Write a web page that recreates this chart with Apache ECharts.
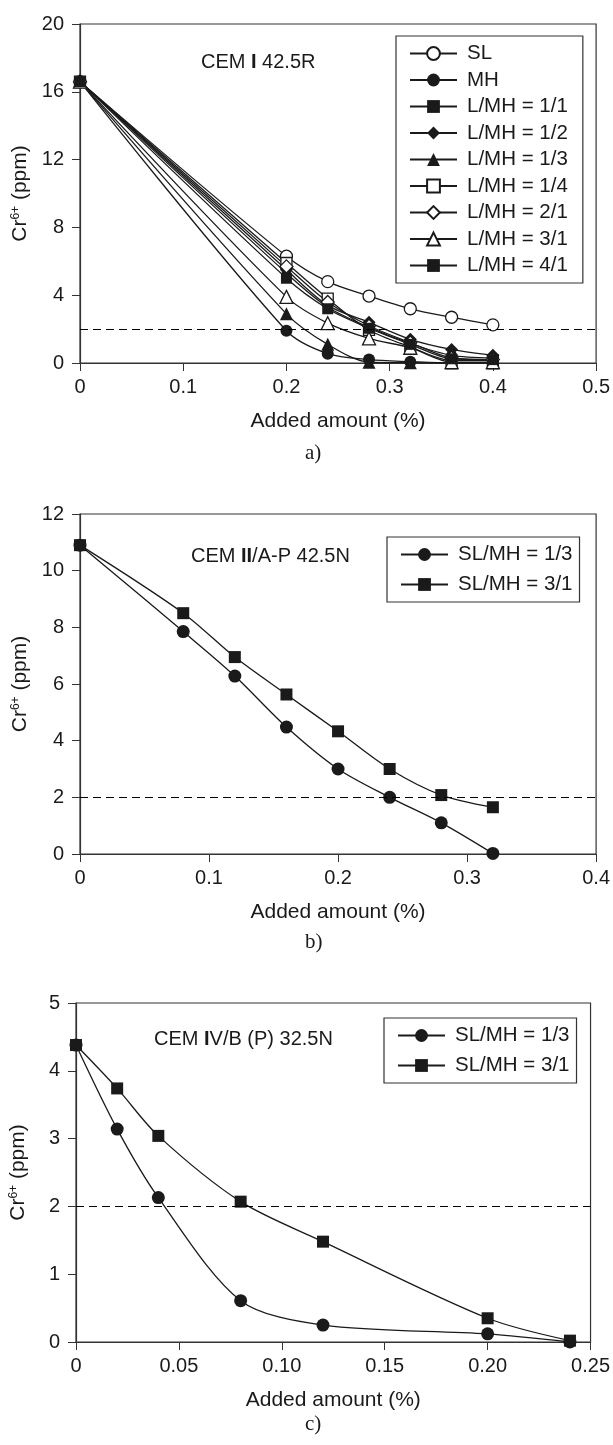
<!DOCTYPE html>
<html>
<head>
<meta charset="utf-8">
<script src="https://cdn.jsdelivr.net/npm/echarts@6/dist/echarts.min.js"></script>
<style>
  html, body { margin: 0; padding: 0; background: #fff; }
  #main { width: 613px; height: 1445px; }
</style>
</head>
<body>
<div id="main"></div>
<script>
// --- data ---
var xA = [0, 0.2, 0.24, 0.28, 0.32, 0.36, 0.4];
var aSL   = [16.6, 6.3, 4.8, 3.95, 3.2, 2.7, 2.25];
var aMH   = [16.6, 1.9, 0.55, 0.2, 0.08, 0, 0];
var aL11  = [16.6, 5.3, 3.3, 2.1, 1.15, 0.45, 0.3];
var aL12  = [16.6, 5.5, 3.4, 2.4, 1.4, 0.8, 0.45];
var aL13  = [16.6, 2.9, 1.1, 0.05, 0.02, 0, 0];
var aL14  = [16.6, 5.9, 3.8, 1.95, 0.95, 0.15, 0.15];
var aL21  = [16.6, 5.7, 3.6, 2.2, 1.2, 0.3, 0.2];
var aL31  = [16.6, 3.9, 2.35, 1.45, 0.9, 0.05, 0.05];
var aL41  = [16.6, 5.0, 3.2, 2.05, 1.1, 0.25, 0.2];

var xB = [0, 0.08, 0.12, 0.16, 0.2, 0.24, 0.28, 0.32];
var b13 = [10.9, 7.85, 6.28, 4.48, 3.0, 2.0, 1.1, 0.02];
var b31 = [10.9, 8.5, 6.95, 5.63, 4.33, 3.0, 2.08, 1.65];

var xC = [0, 0.02, 0.04, 0.08, 0.12, 0.2, 0.24];
var c13 = [4.38, 3.14, 2.13, 0.61, 0.25, 0.12, 0.0];
var c31 = [4.38, 3.74, 3.04, 2.07, 1.48, 0.35, 0.02];

var limit = 2;

var FONT = '"Liberation Sans", Arial, sans-serif';
var SERIF = '"Liberation Serif", "Times New Roman", serif';
var INK = '#1a1a1a';

function pairs(xs, ys) {
    var out = [];
    for (var i = 0; i < xs.length; i++) out.push([xs[i], ys[i]]);
    return out;
}

function mkSeries(name, idx, xs, ys, symbol, open, size) {
    return {
        name: name,
        type: 'line',
        xAxisIndex: idx,
        yAxisIndex: idx,
        data: pairs(xs, ys),
        smooth: 0.3,
        symbol: symbol,
        symbolSize: size,
        showSymbol: true,
        lineStyle: { color: INK, width: 1.3 },
        itemStyle: {
            color: open ? '#fff' : INK,
            borderColor: INK,
            borderWidth: open ? 1.3 : 0
        },
        emphasis: { disabled: true }
    };
}

function limitLine() {
    return {
        silent: true,
        symbol: ['none', 'none'],
        label: { show: false },
        lineStyle: { color: '#000', type: [8, 5], width: 1 },
        data: [{ yAxis: limit }]
    };
}

function xAxisCfg(idx, max, interval, fmt) {
    return {
        type: 'value',
        gridIndex: idx,
        min: 0, max: max, interval: interval,
        name: 'Added amount (%)',
        nameLocation: 'middle',
        nameGap: 48,
        nameTextStyle: { fontFamily: FONT, fontSize: 21, color: INK },
        axisLine: { show: true, onZero: false, lineStyle: { color: '#333', width: 1.2 } },
        axisTick: { show: true, inside: false, length: 8, lineStyle: { color: '#333' } },
        axisLabel: { fontFamily: FONT, fontSize: 20, color: INK, margin: 14, formatter: fmt },
        splitLine: { show: false }
    };
}

var yName = '{n|Cr}{s|6+}{n| (ppm)}';
function yAxisCfg(idx, max, interval) {
    return {
        type: 'value',
        gridIndex: idx,
        min: 0, max: max, interval: interval,
        name: yName,
        nameLocation: 'middle',
        nameGap: 47,
        nameRotate: 90,
        nameTextStyle: {
            rich: {
                n: { fontFamily: FONT, fontSize: 21, color: INK },
                s: { fontFamily: FONT, fontSize: 12, color: INK, verticalAlign: 'top', padding: [0, 0, 8, 0] }
            }
        },
        axisLine: { show: true, lineStyle: { color: '#333', width: 1.2 } },
        axisTick: { show: true, inside: false, length: 8, lineStyle: { color: '#333' } },
        axisLabel: { fontFamily: FONT, fontSize: 20, color: INK, margin: 16 },
        splitLine: { show: false }
    };
}

function legendCfg(left, top, names, gap, pad) {
    return {
        orient: 'vertical',
        left: left, top: top,
        data: names,
        itemWidth: 47,
        itemHeight: 16,
        itemGap: gap,
        padding: pad,
        borderColor: '#333',
        borderWidth: 1.2,
        backgroundColor: '#fff',
        selectedMode: false,
        textStyle: { fontFamily: FONT, fontSize: 20.5, color: INK, padding: [0, 0, 0, 5] }
    };
}

var titleStyle = {
    fontFamily: FONT, fontSize: 20, fontWeight: 'normal', color: INK,
    rich: {
        t: { fontFamily: FONT, fontSize: 20, fontWeight: 'normal', color: INK },
        b: { fontFamily: FONT, fontSize: 20, fontWeight: 'bold', color: INK }
    }
};
var capStyle = { fontFamily: SERIF, fontSize: 21, fontWeight: 'normal', color: INK };

function fmtC(v) { return v === 0 ? '0' : v.toFixed(2); }

var myChart = echarts.init(document.getElementById('main'), null, { renderer: 'canvas' });

var series = [
    mkSeries('SL', 0, xA, aSL, 'circle', true, 12),
    mkSeries('MH', 0, xA, aMH, 'circle', false, 12),
    mkSeries('L/MH = 1/1', 0, xA, aL11, 'rect', false, [9, 7]),
    mkSeries('L/MH = 1/2', 0, xA, aL12, 'diamond', false, 13),
    mkSeries('L/MH = 1/3', 0, xA, aL13, 'triangle', false, 13),
    mkSeries('L/MH = 1/4', 0, xA, aL14, 'rect', true, 11),
    mkSeries('L/MH = 2/1', 0, xA, aL21, 'diamond', true, 13),
    mkSeries('L/MH = 3/1', 0, xA, aL31, 'triangle', true, 13),
    mkSeries('L/MH = 4/1', 0, xA, aL41, 'rect', false, 11),
    mkSeries('SL/MH = 1/3', 1, xB, b13, 'circle', false, 13),
    mkSeries('SL/MH = 3/1', 1, xB, b31, 'rect', false, 12),
    mkSeries('SL/MH = 1/3', 2, xC, c13, 'circle', false, 13),
    mkSeries('SL/MH = 3/1', 2, xC, c31, 'rect', false, 12)
];
series[0].markLine = limitLine();
series[9].markLine = limitLine();
series[11].markLine = limitLine();

var option = {
    backgroundColor: '#fff',
    animation: false,
    grid: [
        { left: 80, right: 16, top: 24, height: 339, show: true, borderColor: '#333', borderWidth: 1.2 },
        { left: 80, right: 16, top: 514, height: 340, show: true, borderColor: '#333', borderWidth: 1.2 },
        { left: 75, right: 22, top: 1003, height: 339, show: true, borderColor: '#333', borderWidth: 1.2 }
    ],
    xAxis: [
        xAxisCfg(0, 0.5, 0.1),
        xAxisCfg(1, 0.4, 0.1),
        xAxisCfg(2, 0.25, 0.05, fmtC)
    ],
    yAxis: [
        yAxisCfg(0, 20, 4),
        yAxisCfg(1, 12, 2),
        yAxisCfg(2, 5, 1)
    ],
    legend: [
        legendCfg(396, 36, ['SL', 'MH', 'L/MH = 1/1', 'L/MH = 1/2', 'L/MH = 1/3', 'L/MH = 1/4', 'L/MH = 2/1', 'L/MH = 3/1', 'L/MH = 4/1'], 5.5, [7, 15, 7, 13]),
        legendCfg(387, 537, ['SL/MH = 1/3', 'SL/MH = 3/1'], 9, [7, 7, 7, 13]),
        legendCfg(384, 1018, ['SL/MH = 1/3', 'SL/MH = 3/1'], 9, [7, 7, 7, 13])
    ],
    title: [
        { text: '{t|CEM }{b|I}{t| 42.5R}', left: 196, top: 47, textStyle: titleStyle },
        { text: '{t|CEM }{b|II}{t|/A-P 42.5N}', left: 186, top: 541, textStyle: titleStyle },
        { text: '{t|CEM }{b|I}{t|V/B (P) 32.5N}', left: 149, top: 1024, textStyle: titleStyle },
        { text: 'a)', left: 300, top: 438, textStyle: capStyle },
        { text: 'b)', left: 300, top: 927, textStyle: capStyle },
        { text: 'c)', left: 300, top: 1409, textStyle: capStyle }
    ],
    series: series
};
myChart.setOption(option);
</script>
</body>
</html>
